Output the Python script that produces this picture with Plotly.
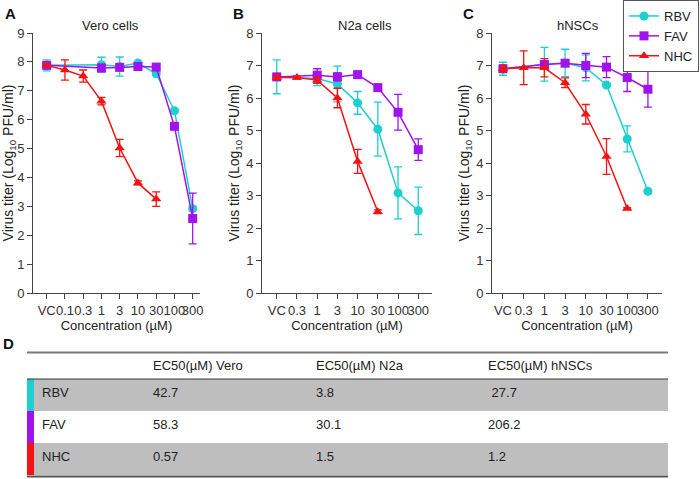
import plotly.graph_objects as go

W, H = 700, 479
FONT = "Liberation Sans, Arial, sans-serif"

CYAN = "#1ECFCF"
PURPLE = "#A012F0"
RED = "#F51212"

# ---------------- data ----------------
cats_vero = ["VC", "0.1", "0.3", "1", "3", "10", "30", "100", "300"]
cats_n2a = ["VC", "0.3", "1", "3", "10", "30", "100", "300"]
cats_hnsc = ["VC", "0.3", "1", "3", "10", "30", "100", "300"]

# Vero
vero_rbv_x = ["VC", "1", "3", "10", "30", "100", "300"]
vero_rbv_y = [7.88, 7.90, 7.84, 7.96, 7.59, 6.31, 2.92]
vero_rbv_e = [0.19, 0.26, 0.33, 0.05, 0.05, 0.05, 0.08]
vero_fav_x = ["VC", "1", "3", "10", "30", "100", "300"]
vero_fav_y = [7.88, 7.79, 7.81, 7.84, 7.82, 5.77, 2.58]
vero_fav_e = [0.05, 0.12, 0.08, 0.05, 0.05, 0.05, 0.88]
vero_nhc_x = ["VC", "0.1", "0.3", "1", "3", "10", "30"]
vero_nhc_y = [7.88, 7.72, 7.51, 6.64, 5.02, 3.81, 3.25]
vero_nhc_e = [0.05, 0.35, 0.21, 0.13, 0.30, 0.07, 0.25]

# N2a
n2a_rbv_x = ["VC", "1", "3", "10", "30", "100", "300"]
n2a_rbv_y = [6.65, 6.60, 6.43, 5.85, 5.04, 3.08, 2.53]
n2a_rbv_e = [0.52, 0.22, 0.55, 0.35, 0.83, 0.80, 0.73]
n2a_fav_x = ["VC", "1", "3", "10", "30", "100", "300"]
n2a_fav_y = [6.65, 6.70, 6.65, 6.72, 6.32, 5.56, 4.41]
n2a_fav_e = [0.05, 0.20, 0.12, 0.05, 0.05, 0.55, 0.33]
n2a_nhc_x = ["VC", "0.3", "1", "3", "10", "30"]
n2a_nhc_y = [6.63, 6.63, 6.55, 6.00, 4.05, 2.50]
n2a_nhc_e = [0.05, 0.05, 0.10, 0.30, 0.37, 0.06]

# hNSCs
hnsc_rbv_x = ["VC", "1", "3", "10", "30", "100", "300"]
hnsc_rbv_y = [6.90, 7.04, 7.08, 6.93, 6.40, 4.74, 3.13]
hnsc_rbv_e = [0.20, 0.52, 0.42, 0.40, 0.05, 0.40, 0.05]
hnsc_fav_x = ["VC", "1", "3", "10", "30", "100", "300"]
hnsc_fav_y = [6.90, 7.03, 7.07, 7.00, 6.95, 6.63, 6.27]
hnsc_fav_e = [0.10, 0.10, 0.10, 0.37, 0.32, 0.43, 0.55]
hnsc_nhc_x = ["VC", "0.3", "1", "3", "10", "30", "100"]
hnsc_nhc_y = [6.90, 6.93, 6.93, 6.47, 5.50, 4.20, 2.60]
hnsc_nhc_e = [0.10, 0.52, 0.28, 0.15, 0.30, 0.55, 0.03]

panel_titles = ["Vero cells", "N2a cells", "hNSCs"]
panel_letters = ["A", "B", "C", "D"]

# EC50 table
table_header = ["EC50(µM) Vero", "EC50(µM) N2a", "EC50(µM) hNSCs"]
table_drugs = ["RBV", "FAV", "NHC"]
ec50_vero = ["42.7", "58.3", "0.57"]
ec50_n2a = ["3.8", "30.1", "1.5"]
ec50_hnsc = [" 27.7", "206.2", "1.2"]

# ---------------- figure ----------------
def px_x(v):
    return v / W

def px_y(v):
    return 1 - v / H

fig = go.Figure()

panels = [
    dict(cats=cats_vero, ymax=9, xd=(33, 200), xr=(-0.75, 8.4),
         series=[(vero_rbv_x, vero_rbv_y, vero_rbv_e),
                 (vero_fav_x, vero_fav_y, vero_fav_e),
                 (vero_nhc_x, vero_nhc_y, vero_nhc_e)]),
    dict(cats=cats_n2a, ymax=8, xd=(262, 432), xr=(-0.73, 7.68),
         series=[(n2a_rbv_x, n2a_rbv_y, n2a_rbv_e),
                 (n2a_fav_x, n2a_fav_y, n2a_fav_e),
                 (n2a_nhc_x, n2a_nhc_y, n2a_nhc_e)]),
    dict(cats=cats_hnsc, ymax=8, xd=(492, 662), xr=(-0.53, 7.68),
         series=[(hnsc_rbv_x, hnsc_rbv_y, hnsc_rbv_e),
                 (hnsc_fav_x, hnsc_fav_y, hnsc_fav_e),
                 (hnsc_nhc_x, hnsc_nhc_y, hnsc_nhc_e)]),
]

names = ["RBV", "FAV", "NHC"]
colors = [CYAN, PURPLE, RED]
symbols = ["circle", "square", "triangle-up"]
title_x = [111, 365, 578]

ydom = [px_y(293), px_y(33)]
annotations = []
for i, p in enumerate(panels):
    xa = "x" if i == 0 else f"x{i+1}"
    ya = "y" if i == 0 else f"y{i+1}"
    for j, (sx, sy, se) in enumerate(p["series"]):
        fig.add_trace(go.Scatter(
            x=sx, y=sy, xaxis=xa, yaxis=ya, name=names[j],
            mode="lines+markers",
            line=dict(color=colors[j], width=1.5),
            marker=dict(color=colors[j], symbol=symbols[j], size=9),
            error_y=dict(type="data", array=se, color=colors[j],
                         thickness=1.3, width=4),
            showlegend=(i == 2),
        ))
    xkey = "xaxis" if i == 0 else f"xaxis{i+1}"
    ykey = "yaxis" if i == 0 else f"yaxis{i+1}"
    fig.layout[xkey] = dict(
        domain=[px_x(p["xd"][0]), px_x(p["xd"][1])], anchor=ya,
        type="category", categoryorder="array", categoryarray=p["cats"],
        tickmode="array", tickvals=p["cats"], ticktext=p["cats"],
        range=list(p["xr"]), tickangle=0,
        showline=True, linecolor="#444", linewidth=1, ticks="outside",
        ticklen=5, tickcolor="#444", showgrid=False, zeroline=False,
        tickfont=dict(size=13, color="#333", family=FONT),
        title=dict(text="Concentration (µM)", standoff=3,
                   font=dict(size=13, color="#222", family=FONT)),
        automargin=False,
    )
    fig.layout[ykey] = dict(
        domain=ydom, anchor=xa, range=[0, p["ymax"]], dtick=1,
        showline=True, linecolor="#444", linewidth=1, ticks="outside",
        ticklen=5, tickcolor="#444", showgrid=False, zeroline=False,
        tickfont=dict(size=13, color="#333", family=FONT),
        title=dict(text="Virus titer (Log<sub>10</sub> PFU/ml)", standoff=3,
                   font=dict(size=14, color="#222", family=FONT)),
        automargin=False,
    )
    annotations.append(dict(
        text=panel_titles[i], xref="paper", yref="paper",
        x=px_x(title_x[i]), y=px_y(25), xanchor="center", yanchor="middle",
        showarrow=False, font=dict(size=13, color="#222", family=FONT),
    ))

letter_pos = [(10, 13), (238, 13), (468, 13), (8, 343)]
for t, (lx, ly) in zip(panel_letters, letter_pos):
    annotations.append(dict(
        text=f"<b>{t}</b>", xref="paper", yref="paper",
        x=px_x(lx), y=px_y(ly), xanchor="center", yanchor="middle",
        showarrow=False, font=dict(size=15, color="#111", family=FONT),
    ))

# ---------------- table ----------------
GRAY = "#BEBEBE"
row_fill = [GRAY, "white", GRAY]
fig.add_trace(go.Table(
    domain=dict(x=[px_x(27), px_x(668)], y=[px_y(477), px_y(352)]),
    columnwidth=[7, 111, 163, 172, 188],
    header=dict(
        values=["", ""] + table_header,
        fill_color="white", line_width=0, height=27, align="left",
        font=dict(size=13, color="#222", family=FONT),
    ),
    cells=dict(
        values=[["", "", ""], table_drugs, ec50_vero, ec50_n2a, ec50_hnsc],
        fill_color=[colors, row_fill, row_fill, row_fill, row_fill],
        line_width=0, height=32, align="left",
        font=dict(size=13, color="#222", family=FONT),
    ),
))

shapes = [
    dict(type="line", xref="paper", yref="paper", x0=px_x(27), x1=px_x(668),
         y0=px_y(352.5), y1=px_y(352.5), line=dict(color="#7A7A7A", width=2)),
    dict(type="line", xref="paper", yref="paper", x0=px_x(27), x1=px_x(668),
         y0=px_y(379), y1=px_y(379), line=dict(color="#333", width=1)),
    dict(type="line", xref="paper", yref="paper", x0=px_x(27), x1=px_x(668),
         y0=px_y(476.5), y1=px_y(476.5), line=dict(color="#555", width=2)),
]

fig.update_layout(
    width=W, height=H, margin=dict(l=0, r=0, t=0, b=0),
    paper_bgcolor="white", plot_bgcolor="white",
    font=dict(family=FONT, color="#222"),
    annotations=annotations, shapes=shapes,
    legend=dict(x=px_x(699), xanchor="right", y=1, yanchor="top",
                bordercolor="#555", borderwidth=1, bgcolor="white",
                font=dict(size=13, family=FONT, color="#222"),
                itemwidth=30, tracegroupgap=0),
)

fig.write_html(
    "out.html",
    config={"displayModeBar": False},
    post_script="document.body.style.margin='0';document.body.style.overflow='hidden';",
)
